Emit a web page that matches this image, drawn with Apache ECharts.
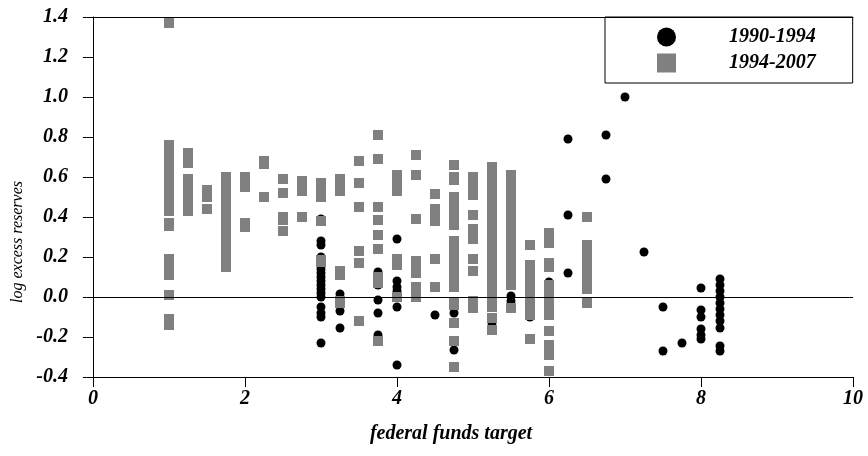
<!DOCTYPE html>
<html>
<head>
<meta charset="utf-8">
<script src="https://cdn.jsdelivr.net/npm/echarts@6/dist/echarts.min.js"></script>
<style>html,body{margin:0;padding:0;background:#fff;}#c{width:868px;height:456px;}</style>
</head>
<body>
<div id="c"></div>
<script>
// Fed funds target for each column of the 1990-1994 sample
const targets9094 = [3.0, 3.25, 3.75, 4.0, 4.5, 4.75, 5.25, 5.5, 5.75, 6.0, 6.25, 6.75, 7.0, 7.25, 7.5, 7.75, 8.0, 8.25];
const reserves9094 = [
  [0.39, 0.28, 0.26, 0.20, 0.17, 0.14, 0.12, 0.10, 0.08, 0.06, 0.04, 0.02, 0.0, -0.05, -0.08, -0.10, -0.23],
  [0.015, -0.03, -0.07, -0.155],
  [0.125, 0.06, -0.015, -0.08, -0.19],
  [0.29, 0.08, 0.05, 0.03, 0.0, -0.05, -0.34],
  [-0.09],
  [-0.08, -0.265],
  [-0.13],
  [0.005, -0.02],
  [0.08, -0.10],
  [0.17, 0.075],
  [0.79, 0.41, 0.12],
  [0.81, 0.59],
  [1.0],
  [0.225],
  [-0.05, -0.27],
  [-0.23],
  [0.045, -0.065, -0.10, -0.16, -0.19, -0.21],
  [0.09, 0.06, 0.03, 0.0, -0.03, -0.06, -0.09, -0.12, -0.155, -0.245, -0.27]
];
// Fed funds target for each column of the 1994-2007 sample
const targets9407 = [1.0, 1.25, 1.5, 1.75, 2.0, 2.25, 2.5, 2.75, 3.0, 3.25, 3.5, 3.75, 4.0, 4.25, 4.5, 4.75, 5.0, 5.25, 5.5, 5.75, 6.0, 6.5];
const reserves9407 = [
  [1.37, 0.76, 0.73, 0.70, 0.67, 0.64, 0.61, 0.58, 0.55, 0.52, 0.49, 0.46, 0.43, 0.37, 0.355, 0.19, 0.16, 0.13, 0.11, 0.01, -0.11, -0.14],
  [0.72, 0.69, 0.67, 0.59, 0.56, 0.53, 0.50, 0.47, 0.43],
  [0.535, 0.50, 0.44],
  [0.60, 0.57, 0.54, 0.51, 0.48, 0.45, 0.42, 0.39, 0.36, 0.33, 0.30, 0.27, 0.24, 0.21, 0.18, 0.15],
  [0.60, 0.57, 0.55, 0.37, 0.35],
  [0.68, 0.665, 0.50],
  [0.59, 0.52, 0.40, 0.385, 0.33],
  [0.58, 0.53, 0.40],
  [0.57, 0.54, 0.50, 0.38, 0.185, 0.175],
  [0.59, 0.56, 0.53, 0.13, 0.11, -0.02, -0.03],
  [0.68, 0.57, 0.45, 0.23, 0.17, -0.12],
  [0.81, 0.69, 0.45, 0.385, 0.31, 0.24, 0.10, 0.07, -0.22],
  [0.61, 0.58, 0.55, 0.53, 0.19, 0.16, 0.0],
  [0.71, 0.61, 0.39, 0.18, 0.15, 0.12, 0.05, 0.0],
  [0.515, 0.44, 0.41, 0.38, 0.19, 0.05],
  [0.66, 0.60, 0.585, 0.50, 0.47, 0.44, 0.41, 0.38, 0.36, 0.28, 0.25, 0.22, 0.19, 0.16, 0.13, 0.10, 0.07, 0.05, -0.03, -0.04, -0.13, -0.22, -0.35],
  [0.60, 0.57, 0.54, 0.51, 0.41, 0.34, 0.31, 0.29, 0.19, 0.13, -0.02, -0.055],
  [0.65, 0.62, 0.59, 0.56, 0.53, 0.50, 0.47, 0.44, 0.41, 0.38, 0.35, 0.31, 0.26, 0.23, 0.20, 0.17, 0.14, 0.11, 0.08, 0.05, 0.02, -0.01, -0.05, -0.105, -0.165],
  [0.61, 0.58, 0.55, 0.52, 0.49, 0.46, 0.43, 0.40, 0.37, 0.34, 0.31, 0.28, 0.25, 0.22, 0.19, 0.16, 0.13, 0.10, 0.06, -0.055],
  [0.26, 0.16, 0.13, 0.10, 0.05, 0.02, -0.01, -0.04, -0.07, -0.09, -0.21],
  [0.32, 0.295, 0.27, 0.17, 0.15, 0.06, 0.03, 0.0, -0.03, -0.06, -0.09, -0.17, -0.24, -0.265, -0.29, -0.37],
  [0.40, 0.26, 0.23, 0.20, 0.17, 0.14, 0.11, 0.08, 0.04, -0.03]
];
const seriesNames = ['1990-1994', '1994-2007'];
const xTicks = { min: 0, max: 10, interval: 2 };
const yTicks = { min: -0.4, max: 1.4, interval: 0.2 };

function pairs(targets, values) {
  const out = [];
  targets.forEach((t, i) => values[i].forEach(v => out.push([t, v])));
  return out;
}

const serif = 'Liberation Serif';
const chart = echarts.init(document.getElementById('c'), null, { renderer: 'canvas' });
chart.setOption({
  animation: false,
  backgroundColor: '#fff',
  grid: { left: 93, top: 17, width: 760, height: 360, containLabel: false },
  legend: {
    orient: 'vertical',
    left: 605, top: 17,
    padding: [10, 37, 10, 52],
    itemWidth: 19, itemHeight: 19, itemGap: 6,
    borderColor: '#000', borderWidth: 1,
    textStyle: { fontFamily: serif, fontStyle: 'italic', fontWeight: 'bold', fontSize: 20, color: '#000', lineHeight: 19, padding: [0, 0, 0, 48] },
    data: [
      { name: seriesNames[0], icon: 'circle', itemStyle: { color: '#000' } },
      { name: seriesNames[1], icon: 'rect', itemStyle: { color: '#808080' } }
    ]
  },
  xAxis: [{
    type: 'value', min: xTicks.min, max: xTicks.max, interval: xTicks.interval,
    position: 'bottom',
    name: 'federal funds target', nameLocation: 'middle', nameGap: 47,
    nameTextStyle: { fontFamily: serif, fontStyle: 'italic', fontWeight: 'bold', fontSize: 20, color: '#000', padding: [0, 44, 0, 0] },
    axisLine: { show: true, onZero: false, lineStyle: { color: '#000', width: 1 } },
    axisTick: { show: true, inside: false, length: 10, lineStyle: { color: '#000' } },
    axisLabel: { margin: 12, fontFamily: serif, fontStyle: 'italic', fontWeight: 'bold', fontSize: 20, color: '#000' },
    splitLine: { show: false }
  }, {
    type: 'value', min: xTicks.min, max: xTicks.max, position: 'top',
    axisLine: { show: true, onZero: false, lineStyle: { color: '#000', width: 1 } },
    axisTick: { show: false }, axisLabel: { show: false }, splitLine: { show: false }
  }],
  yAxis: {
    type: 'value', min: yTicks.min, max: yTicks.max, interval: yTicks.interval,
    name: 'log excess reserves', nameLocation: 'middle', nameGap: 64,
    nameTextStyle: { fontFamily: serif, fontStyle: 'italic', fontSize: 16, color: '#000', padding: [0, 90, 0, 0] },
    axisLine: { show: true, onZero: false, lineStyle: { color: '#000', width: 1 } },
    axisTick: { show: true, inside: false, length: 10, lineStyle: { color: '#000' } },
    axisLabel: { margin: 25, fontFamily: serif, fontStyle: 'italic', fontWeight: 'bold', fontSize: 20, color: '#000',
      formatter: v => v.toFixed(1) },
    splitLine: { show: false }
  },
  series: [{
    name: seriesNames[0], type: 'scatter', symbol: 'circle', symbolSize: 9,
    itemStyle: { color: '#000', opacity: 1 },
    data: pairs(targets9094, reserves9094),
    markLine: {
      silent: true, symbol: 'none', label: { show: false },
      lineStyle: { color: '#000', width: 1, type: 'solid' },
      data: [{ yAxis: 0 }]
    }
  }, {
    name: seriesNames[1], type: 'scatter', symbol: 'rect', symbolSize: 10,
    itemStyle: { color: '#808080', opacity: 1 },
    data: pairs(targets9407, reserves9407)
  }]
});
</script>
</body>
</html>
